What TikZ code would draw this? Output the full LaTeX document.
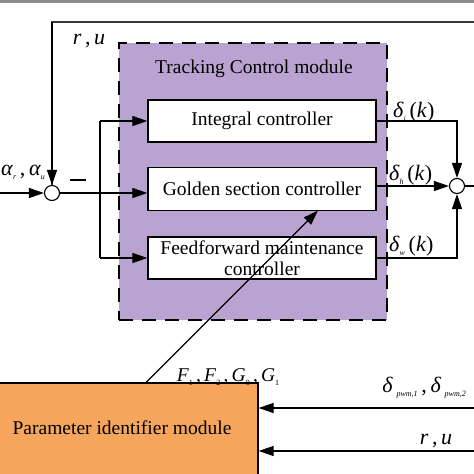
\documentclass[tikz,border=0pt]{standalone}
\usepackage{fontspec}
\setmainfont{Liberation Serif}
\usetikzlibrary{arrows.meta,calc}
\definecolor{purp}{HTML}{B9A3D1}
\definecolor{orng}{HTML}{F6A55C}
\definecolor{topgray}{HTML}{8C8C8C}
\newcommand{\fs}{\fontsize{19.5}{23}\selectfont}
\newcommand{\fl}{\fontsize{22}{25}\selectfont}
\newcommand{\sub}[1]{\raisebox{-0.45ex}{\fontsize{8}{9}\selectfont\itshape #1}}
\begin{document}
\begin{tikzpicture}[x=1pt,y=-1pt,
  blk/.style={draw, line width=1.2pt, fill=white, minimum width=228pt, minimum height=42pt, inner sep=0pt, align=center, font=\fs},
  conn/.style={line width=1.1pt},
  arr/.style={conn, -{Triangle[length=15pt,width=10pt]}},
  sumc/.style={circle, draw, line width=1.1pt, fill=white, minimum size=15pt, inner sep=0pt},
  lbl/.style={font=\fs, inner sep=0pt},
  mlbl/.style={font=\fl, inner sep=0pt}
]
\clip (0,0) rectangle (474,474);
\fill[white] (0,0) rectangle (474,474);
\fill[topgray] (0,0) rectangle (474,3);

% tracking module
\node[draw, dashed, dash pattern=on 14pt off 9pt, line width=1.5pt, fill=purp,
      minimum width=268pt, minimum height=277pt, inner sep=0pt] (track) at (253,181.5) {};
\node[lbl] (title) at (254,69) {Tracking Control module};

\node[blk] (integ) at (262,121) {Integral controller};
\node[blk, minimum height=43pt] (gold) at (262,189) {Golden section controller};
\node[blk, font=\fontsize{19.5}{22.5}\selectfont] (ffw) at (262,258) {Feedforward maintenance\\[-1pt]controller};

% summing junctions
\node[sumc] (sumL) at (52,193) {};
\node[sumc] (sumR) at (457,186) {};

% parameter identifier
\node[draw, line width=1.3pt, fill=orng, minimum width=270pt, minimum height=110pt, inner sep=0pt] (param) at (123,438) {};
\node[lbl] (ptext) at (122,428) {Parameter identifier module};

% coordinates
\coordinate (inL) at (0,193);
\coordinate (fbR) at (474,22);
\coordinate (outR) at (474,186);
\coordinate (br) at (100,193);
\coordinate (in1) at (474,408);
\coordinate (in2) at (474,451);
\coordinate (d1) at (145,383.5);
\coordinate (d2) at (318,210.5);

% connectors left
\draw[arr] (inL) -- (sumL.west);
\draw[conn, topgray!40!black, line width=1.6pt] (fbR) -| (sumL.north);
\draw[arr] (sumL.north |- fbR) -- (sumL.north);
\draw[arr] (sumL.east) -- (gold.west |- sumL);
\draw[conn] (br |- integ) -- (br |- ffw);
\draw[arr] (br |- integ) -- (integ.west);
\draw[arr] (br |- ffw) -- (ffw.west);

% connectors right
\draw[arr] (integ.east) -| (sumR.north);
\draw[arr] (gold.east |- sumR) -- (sumR.west);
\draw[arr] (ffw.east) -| (sumR.south);
\draw[conn] (sumR.east) -- (outR);

% diagonal
\draw[arr] (d1) -- (d2);

% inputs to parameter identifier
\draw[arr] (in1) -- (in1 -| param.east);
\draw[arr] (in2) -- (in2 -| param.east);

% labels
\node[mlbl, anchor=center] (ru1) at (89,41) {\textit{r}\,,\,\textit{u}};
\node[mlbl, anchor=base west] (alp) at (1,175) {\textit{α}\sub{r}\,,\,\textit{α}\sub{u}};
\node[inner sep=0pt] (minus) at (78,180) {\rule{16pt}{2.2pt}};
\node[mlbl, anchor=base west] (di) at (393,117) {\textit{δ}\sub{i}\,(\textit{k})};
\node[mlbl, anchor=base west] (dh) at (389,180) {\textit{δ}\sub{h}\,(\textit{k})};
\node[mlbl, anchor=base west] (dw) at (389,251) {\textit{δ}\sub{w}\,(\textit{k})};
\node[lbl, anchor=base] (fg) at (228,381) {\textit{F}\sub{\upshape 1}\,,\,\textit{F}\sub{\upshape 2}\,,\,\textit{G}\sub{\upshape 0}\,,\,\textit{G}\sub{\upshape 1}};
\node[mlbl, anchor=base east] (dp) at (466,392) {\textit{δ}\,\sub{pwm,1}\,,\,\textit{δ}\,\sub{pwm,2}};
\node[mlbl, anchor=base] (ru2) at (436,444) {\textit{r}\,,\,\textit{u}};
\end{tikzpicture}
\end{document}
